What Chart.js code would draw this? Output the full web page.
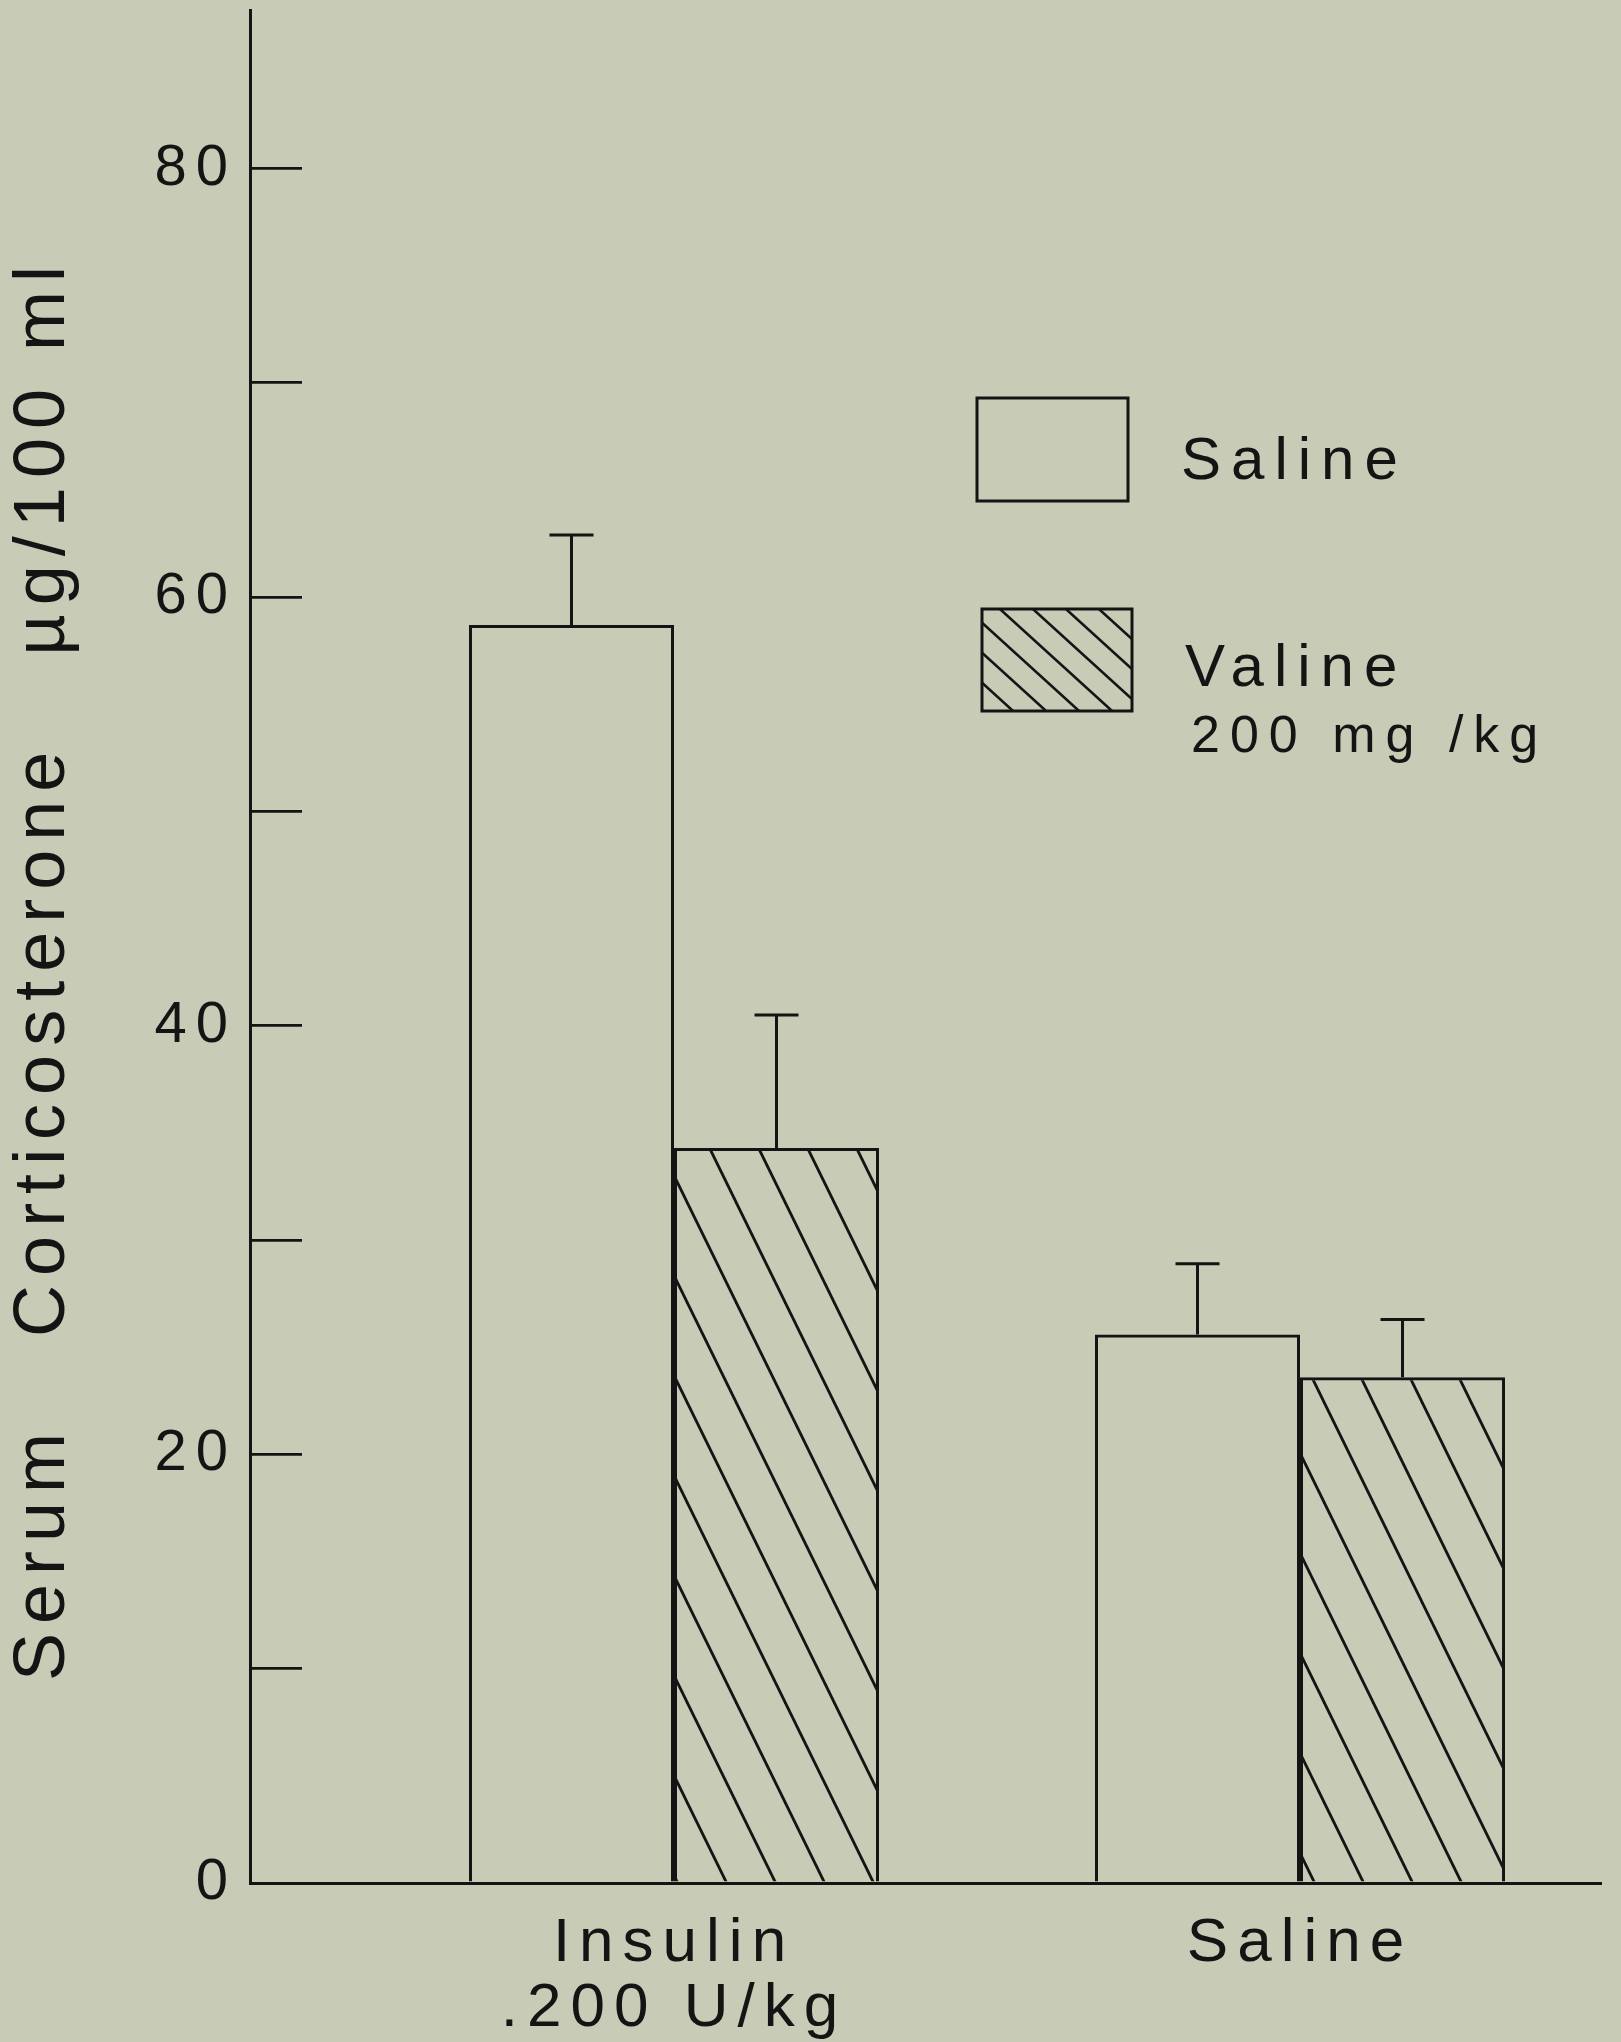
<!DOCTYPE html>
<html>
<head>
<meta charset="utf-8">
<script src="https://cdn.jsdelivr.net/npm/chart.js@4.4.0/dist/chart.umd.min.js"></script>
<style>
  html, body { margin: 0; padding: 0; background: #c8cbb5; }
  #wrap { width: 1621px; height: 2042px; }
</style>
</head>
<body>
<div id="wrap"><canvas id="cortChart"></canvas></div>
<script>
// values (serum corticosterone, ug/100 ml)
const groupLabels = [['Insulin', '.200 U/kg'], ['Saline']];
const groupPositions = [1, 2];
const salineMeans = [58.7, 25.6];
const salineSem = [4.2, 3.3];
const valineMeans = [34.3, 23.6];
const valineSem = [6.2, 2.7];
const seriesNames = ['Saline', 'Valine'];
const legendLines = [['Saline'], ['Valine', '200 mg /kg']];
const yTickStep = 10;
const yLabelStep = 20;

const ink = '#141414';
const fontFam = '"Liberation Sans", Arial, sans-serif';
const ctx = document.getElementById('cortChart').getContext('2d');

// diagonal "\\" hatching tile
function makeHatch(w, h, lw) {
  const tile = document.createElement('canvas');
  tile.width = w;
  tile.height = h;
  const g = tile.getContext('2d');
  g.strokeStyle = ink;
  g.lineWidth = lw;
  for (const dx of [-w, 0, w]) {
    g.beginPath();
    g.moveTo(dx - w, -h);
    g.lineTo(dx + 2 * w, 2 * h);
    g.stroke();
  }
  return ctx.createPattern(tile, 'repeat');
}
const barHatch = makeHatch(49, 100, 2.8);
const legendHatch = makeHatch(33, 30, 2.6);

const trackText = {
  id: 'trackText',
  beforeDraw(chart) {
    chart.ctx.letterSpacing = '9px';
  }
};

const errorBars = {
  id: 'errorBars',
  afterDatasetsDraw(chart) {
    const c = chart.ctx;
    const y = chart.scales.y;
    c.save();
    c.strokeStyle = ink;
    c.lineWidth = 3;
    chart.data.datasets.forEach((ds, i) => {
      chart.getDatasetMeta(i).data.forEach((bar, j) => {
        const base = y.getPixelForValue(ds.data[j].y);
        const top = y.getPixelForValue(ds.data[j].y + ds.sem[j]);
        c.beginPath();
        c.moveTo(bar.x, base);
        c.lineTo(bar.x, top);
        c.moveTo(bar.x - 22, top);
        c.lineTo(bar.x + 22, top);
        c.stroke();
      });
    });
    c.restore();
  }
};

const boxLegend = {
  id: 'boxLegend',
  afterDraw(chart) {
    const c = chart.ctx;
    const boxes = [
      { x: 977, y: 398, w: 151, h: 103, tx: 1181, ty: [479] },
      { x: 982, y: 609, w: 150, h: 102, tx: 1185, ty: [686, 752] }
    ];
    c.save();
    c.letterSpacing = '10px';
    chart.data.datasets.forEach((ds, i) => {
      const b = boxes[i];
      c.fillStyle = i === 1 ? legendHatch : ds.backgroundColor;
      c.fillRect(b.x, b.y, b.w, b.h);
      c.strokeStyle = ink;
      c.lineWidth = 3;
      c.strokeRect(b.x, b.y, b.w, b.h);
      c.fillStyle = ink;
      c.textBaseline = 'alphabetic';
      c.textAlign = 'left';
      legendLines[i].forEach((line, k) => {
        c.font = (k === 0 ? '60px ' : '52px ') + fontFam;
        c.fillText(line, b.tx + k * 6, b.ty[k]);
      });
    });
    c.restore();
  }
};

new Chart(ctx, {
  type: 'bar',
  data: {
    datasets: [{
      label: seriesNames[0],
      data: groupPositions.map((x, i) => ({ x: x, y: salineMeans[i] })),
      sem: salineSem,
      backgroundColor: 'rgba(0,0,0,0)',
      borderColor: ink,
      borderWidth: 3
    }, {
      label: seriesNames[1],
      data: groupPositions.map((x, i) => ({ x: x, y: valineMeans[i] })),
      sem: valineSem,
      backgroundColor: barHatch,
      borderColor: ink,
      borderWidth: 3
    }]
  },
  options: {
    responsive: true,
    maintainAspectRatio: false,
    animation: false,
    events: [],
    categoryPercentage: 0.655,
    barPercentage: 1,
    layout: { padding: { top: 10, right: 20, left: 0, bottom: 0 } },
    plugins: {
      legend: { display: false },
      tooltip: { enabled: false }
    },
    scales: {
      x: {
        type: 'linear',
        offset: false,
        min: 0.3227,
        max: 2.4808,
        afterBuildTicks: scale => {
          scale.ticks = groupPositions.map(v => ({ value: v }));
        },
        afterFit: scale => {
          scale.height = 159;
          scale.paddingLeft = 0;
          scale.paddingRight = 0;
        },
        grid: { display: false, drawTicks: false },
        border: { display: true, color: ink, width: 3 },
        ticks: {
          autoSkip: false,
          maxRotation: 0,
          padding: 28,
          color: ink,
          font: { family: fontFam, size: 62, lineHeight: 1.05 },
          callback: (value, index) => groupLabels[index]
        }
      },
      y: {
        min: 0,
        max: 87.4,
        afterFit: scale => {
          scale.width = 250;
          scale.paddingTop = 0;
          scale.paddingBottom = 0;
        },
        grid: {
          drawOnChartArea: false,
          drawTicks: true,
          tickLength: -52,
          color: ink,
          lineWidth: 2.8
        },
        border: { display: true, color: ink, width: 3 },
        ticks: {
          stepSize: yTickStep,
          includeBounds: false,
          padding: 65,
          color: ink,
          font: { family: fontFam, size: 58 },
          callback: v => (v % yLabelStep === 0 ? String(v) : '')
        },
        title: {
          display: true,
          text: 'Serum   Corticosterone   µg/100 ml\u2002',
          color: ink,
          font: { family: fontFam, size: 72 },
          padding: { top: 1, bottom: 0 }
        }
      }
    }
  },
  plugins: [trackText, errorBars, boxLegend]
});
</script>
</body>
</html>
